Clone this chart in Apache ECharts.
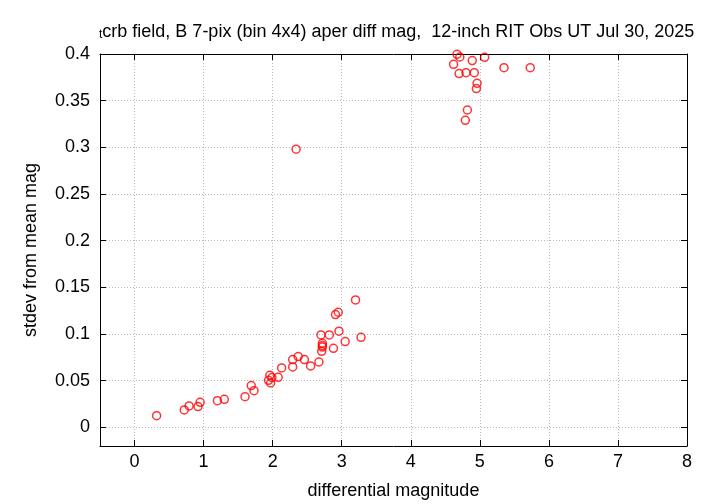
<!DOCTYPE html>
<html><head><meta charset="utf-8">
<script src="https://cdn.jsdelivr.net/npm/echarts@6/dist/echarts.min.js"></script>
<style>html,body{margin:0;padding:0;background:#fff}#c{width:720px;height:504px}</style>
</head><body><div id="c"></div>
<script>
const diffMag = [0.32,0.72,0.79,0.92,0.95,1.20,1.30,1.60,1.69,1.73,1.96,1.99,1.94,1.97,2.08,2.13,2.29,2.29,2.37,2.46,2.55,2.67,2.70,2.82,2.72,2.72,2.72,2.71,2.88,2.91,2.95,2.96,3.05,3.20,3.28,2.34,4.67,4.71,4.62,4.89,5.07,4.70,4.80,4.92,5.35,5.73,4.96,4.95,4.82,4.79];
const stdevMag = [0.0125,0.0186,0.0229,0.0222,0.0268,0.0286,0.030,0.0329,0.0447,0.0393,0.0558,0.0533,0.0504,0.0475,0.0536,0.0636,0.0647,0.0726,0.0758,0.0726,0.0658,0.070,0.099,0.099,0.090,0.0876,0.086,0.0815,0.0847,0.1208,0.1233,0.103,0.0919,0.1365,0.0965,0.298,0.3997,0.3968,0.389,0.393,0.3965,0.379,0.380,0.380,0.3853,0.3853,0.3686,0.363,0.340,0.329];
const xTicks = [0,1,2,3,4,5,6,7,8];
const yTicks = [0,0.05,0.1,0.15,0.2,0.25,0.3,0.35,0.4];
const titleMain = 'crb field, B 7-pix (bin 4x4) aper diff mag,  12-inch RIT Obs UT Jul 30, 2025';
const titleSub = 't';
const xName = 'differential magnitude';
const yName = 'stdev from mean mag';

const FONT = 'Liberation Sans';
const FS = 18;
const gridLine = {show:true, lineStyle:{color:'#b8b8b8', type:[1,2], width:1}};
const chart = echarts.init(document.getElementById('c'), null, {renderer:'canvas'});
const axisLine = {show:true, onZero:false, lineStyle:{color:'#000', width:1}};
const tick = {show:true, inside:true, length:6, lineStyle:{color:'#000'}};
chart.setOption({
  animation:false,
  backgroundColor:'#fff',
  title:{
    text:'{s|'+titleSub+'}{m|'+titleMain+'}',
    left:94, top:16,
    textStyle:{fontWeight:'normal', rich:{
      s:{fontFamily:FONT, fontSize:12, fontWeight:'normal', color:'#000', verticalAlign:'bottom', lineHeight:12, padding:[14,0,0,0]},
      m:{fontFamily:FONT, fontSize:FS, fontWeight:'normal', color:'#000', verticalAlign:'bottom', lineHeight:20}
    }}
  },
  grid:{left:100, right:33, top:54, bottom:58, containLabel:false, outerBoundsMode:'none'},
  xAxis:[{
    type:'value', min:-0.5, max:8,
    name:xName, nameLocation:'middle', nameGap:36,
    nameTextStyle:{fontFamily:FONT, fontSize:FS, color:'#000'},
    axisLine:axisLine,
    axisTick:Object.assign({customValues:xTicks}, tick),
    axisLabel:{fontFamily:FONT, fontSize:FS, color:'#000', margin:7, customValues:xTicks},
    splitLine:gridLine
  },{
    type:'value', position:'top', min:-0.5, max:8,
    axisLine:axisLine,
    axisTick:Object.assign({customValues:xTicks}, tick),
    axisLabel:{show:false, customValues:xTicks}, splitLine:{show:false}
  }],
  yAxis:[{
    type:'value', min:-0.02, max:0.4,
    name:yName, nameLocation:'middle', nameGap:60, nameRotate:90,
    nameTextStyle:{fontFamily:FONT, fontSize:FS, color:'#000'},
    axisLine:axisLine,
    axisTick:Object.assign({customValues:yTicks}, tick),
    axisLabel:{fontFamily:FONT, fontSize:FS, color:'#000', margin:10, customValues:yTicks,
      formatter:v=>String(+v.toFixed(2))},
    splitLine:gridLine
  },{
    type:'value', position:'right', min:-0.02, max:0.4,
    axisLine:axisLine,
    axisTick:Object.assign({customValues:yTicks}, tick),
    axisLabel:{show:false, customValues:yTicks}, splitLine:{show:false}
  }],
  series:[{
    type:'scatter',
    xAxisIndex:0, yAxisIndex:0,
    data: diffMag.map((x,i)=>[x, stdevMag[i]]),
    symbol:'circle', symbolSize:8,
    itemStyle:{color:'rgba(0,0,0,0)', borderColor:'#ff0000', borderWidth:1.5},
    silent:true
  }]
});
</script></body></html>
